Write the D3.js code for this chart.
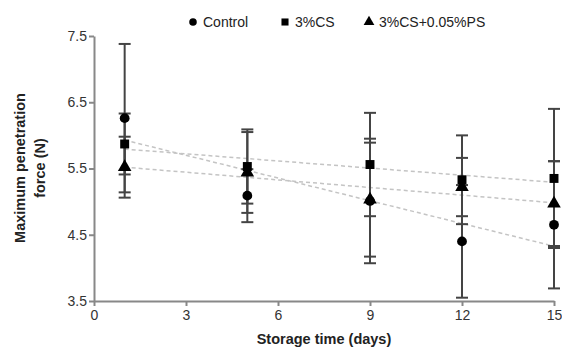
<!DOCTYPE html>
<html>
<head>
  <meta charset="utf-8">
  <title>Maximum penetration force</title>
  <style>
    body { margin: 0; background: #fff; }
    svg { display: block; font-family: "Liberation Sans", Arial, sans-serif; }
    .axis text { font-size: 14px; fill: #333; }
    .axis .domain, .axis .tick line { stroke: #888; stroke-width: 2px; }
    .title { font-size: 14.5px; font-weight: bold; fill: #222; }
    .legend text { font-size: 14px; fill: #222; }
  </style>
  <script src="https://cdn.jsdelivr.net/npm/d3@7"></script>
</head>
<body>
<script>
  // data
  var days = [1, 5, 9, 12, 15];
  var seriesNames = ['Control', '3%CS', '3%CS+0.05%PS'];
  var control = [6.26, 5.09, 5.01, 4.40, 4.65];
  var controlErr = [1.12, 0.40, 0.94, 0.85, 0.96];
  var cs = [5.87, 5.53, 5.56, 5.33, 5.35];
  var csErr = [0.46, 0.56, 0.78, 0.67, 1.05];
  var csps = [5.52, 5.44, 5.03, 5.22, 4.97];
  var cspsErr = [0.46, 0.61, 0.86, 0.44, 0.64];
  var xTicks = [0, 3, 6, 9, 12, 15];
  var yTicks = [3.5, 4.5, 5.5, 6.5, 7.5];

  var W = 562, H = 349;
  var x = d3.scaleLinear().domain([0, 15]).range([94, 554]);
  var y = d3.scaleLinear().domain([3.5, 7.5]).range([301, 36]);

  var svg = d3.select('body').append('svg').attr('width', W).attr('height', H);

  var symbols = [d3.symbolCircle, d3.symbolSquare, d3.symbolTriangle];
  var sizes = [75, 80, 80];
  var series = [
    { name: seriesNames[0], vals: control, err: controlErr },
    { name: seriesNames[1], vals: cs, err: csErr },
    { name: seriesNames[2], vals: csps, err: cspsErr }
  ];

  // axes
  svg.append('g').attr('class', 'axis')
    .attr('transform', 'translate(0,' + y.range()[0] + ')')
    .call(d3.axisBottom(x).tickValues(xTicks).tickSize(5).tickSizeOuter(0).tickPadding(4));
  svg.append('g').attr('class', 'axis')
    .attr('transform', 'translate(' + x.range()[0] + ',0)')
    .call(d3.axisLeft(y).tickValues(yTicks).tickFormat(d3.format('.1f')).tickSize(5).tickSizeOuter(0).tickPadding(2));

  // linear trend lines
  var line = d3.line().x(d => x(d[0])).y(d => y(d[1]));
  series.forEach(function (s) {
    var mx = d3.mean(days), my = d3.mean(s.vals);
    var sxy = d3.sum(days, (d, i) => (d - mx) * (s.vals[i] - my));
    var sxx = d3.sum(days, d => (d - mx) * (d - mx));
    var b = sxy / sxx, a = my - b * mx;
    var ends = d3.extent(days);
    svg.append('path')
      .attr('d', line(ends.map(d => [d, a + b * d])))
      .attr('fill', 'none')
      .attr('stroke', '#c4c4c4')
      .attr('stroke-width', 1.5)
      .attr('stroke-dasharray', '4,3');
  });

  // error bars
  series.forEach(function (s) {
    var g = svg.append('g').attr('stroke', '#444').attr('stroke-width', 2);
    days.forEach(function (d, i) {
      var lo = y(s.vals[i] - s.err[i]), hi = y(s.vals[i] + s.err[i]), cx = x(d);
      g.append('line').attr('x1', cx).attr('x2', cx).attr('y1', lo).attr('y2', hi);
      g.append('line').attr('x1', cx - 6).attr('x2', cx + 6).attr('y1', lo).attr('y2', lo);
      g.append('line').attr('x1', cx - 6).attr('x2', cx + 6).attr('y1', hi).attr('y2', hi);
    });
  });

  // markers
  series.forEach(function (s, k) {
    svg.append('g').selectAll('path')
      .data(days)
      .join('path')
      .attr('transform', (d, i) => 'translate(' + x(d) + ',' + y(s.vals[i]) + ')')
      .attr('d', d3.symbol().type(symbols[k]).size(sizes[k]))
      .attr('fill', '#000');
  });

  // legend
  var legX = [193, 285, 369];
  var leg = svg.append('g').attr('class', 'legend');
  series.forEach(function (s, k) {
    leg.append('path')
      .attr('transform', 'translate(' + legX[k] + ',22)')
      .attr('d', d3.symbol().type(symbols[k]).size(k === 0 ? 45 : 50))
      .attr('fill', '#000');
    leg.append('text')
      .attr('x', legX[k] + 10)
      .attr('y', 27)
      .text(s.name);
  });

  // axis titles
  svg.append('text').attr('class', 'title')
    .attr('x', (x.range()[0] + x.range()[1]) / 2)
    .attr('y', 344)
    .attr('text-anchor', 'middle')
    .text('Storage time (days)');

  var yt = svg.append('text').attr('class', 'title')
    .attr('transform', 'translate(25,168) rotate(-90)')
    .attr('text-anchor', 'middle');
  yt.append('tspan').attr('x', 0).attr('dy', 0).text('Maximum penetration');
  yt.append('tspan').attr('x', 0).attr('dy', 20).text('force (N)');
</script>
</body>
</html>
